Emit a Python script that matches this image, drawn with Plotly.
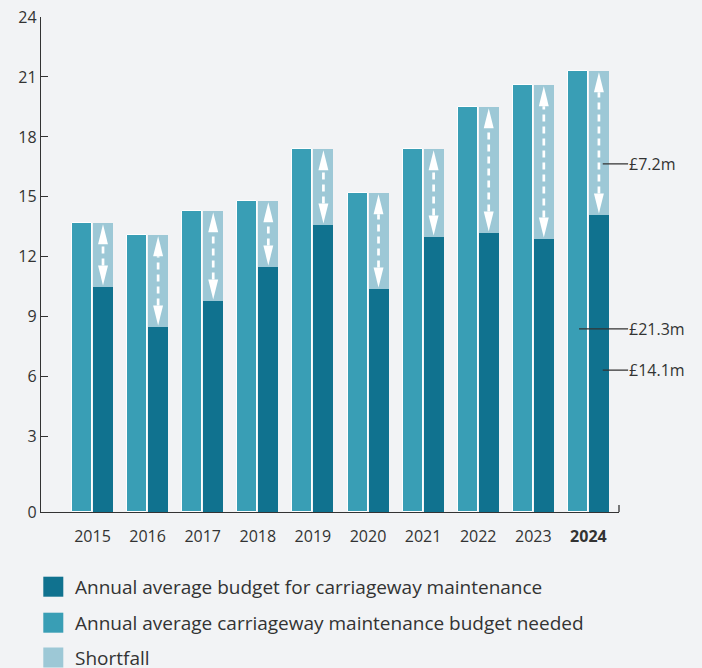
import plotly.graph_objects as go

# ---------------- data ----------------
years = ["2015", "2016", "2017", "2018", "2019", "2020", "2021", "2022", "2023", "2024"]
needed = [13.7, 13.1, 14.3, 14.8, 17.4, 15.2, 17.4, 19.5, 20.6, 21.3]   # budget needed (£m)
budget = [10.5, 8.5, 9.8, 11.5, 13.6, 10.4, 13.0, 13.2, 12.9, 14.1]     # actual budget (£m)
y_ticks = [3, 6, 9, 12, 15, 18, 21, 24]
legend_labels = [
    "Annual average budget for carriageway maintenance",
    "Annual average carriageway maintenance budget needed",
    "Shortfall",
]
callouts = ["£7.2m", "£21.3m", "£14.1m"]

# ---------------- style ----------------
C_BUDGET = "#10728f"
C_NEEDED = "#399eb5"
C_SHORT = "#9dc8d6"
BG = "#f2f3f5"
TXT = "#333333"
FONT = "Open Sans"
AXIS_FLOOR = -0.765          # the chart's baseline sits a little below the 0 gridline
BAR_W = 0.363
OFF_NEED = -0.372
OFF_BUD = 0.009

x = list(range(len(years)))
shortfall = [n - b for n, b in zip(needed, budget)]

fig = go.Figure()
fig.add_trace(go.Bar(
    x=x, y=[v - AXIS_FLOOR for v in needed], base=AXIS_FLOOR,
    width=BAR_W, offset=OFF_NEED, marker=dict(color=C_NEEDED, line=dict(color="white", width=1)),
    customdata=needed, hovertemplate="Needed: £%{customdata}m<extra></extra>", name=legend_labels[1],
))
fig.add_trace(go.Bar(
    x=x, y=[v - AXIS_FLOOR for v in budget], base=AXIS_FLOOR,
    width=BAR_W, offset=OFF_BUD, marker=dict(color=C_BUDGET, line=dict(width=0)),
    customdata=budget, hovertemplate="Budget: £%{customdata}m<extra></extra>", name=legend_labels[0],
))
fig.add_trace(go.Bar(
    x=x, y=shortfall, base=budget,
    width=BAR_W, offset=OFF_BUD, marker=dict(color=C_SHORT, line=dict(width=0)),
    hovertemplate="Shortfall: £%{y:.1f}m<extra></extra>", name=legend_labels[2],
))

shapes = []
# double-headed dashed arrows inside the shortfall segments
HEAD_H = 1.0
HEAD_HW = 0.09
PAD = 0.07
xc_off = OFF_BUD + BAR_W / 2
for i, (n, b) in enumerate(zip(needed, budget)):
    xc = i + xc_off
    top_tip = n - PAD
    bot_tip = b + PAD
    shapes.append(dict(type="line", xref="x", yref="y", x0=xc, x1=xc,
                       y0=bot_tip + HEAD_H, y1=top_tip - HEAD_H,
                       line=dict(color="white", width=2.7, dash="7px,5px")))
    shapes.append(dict(type="path", xref="x", yref="y", fillcolor="white", line=dict(width=0),
                       path=f"M {xc},{top_tip} L {xc-HEAD_HW},{top_tip-HEAD_H} L {xc+HEAD_HW},{top_tip-HEAD_H} Z"))
    shapes.append(dict(type="path", xref="x", yref="y", fillcolor="white", line=dict(width=0),
                       path=f"M {xc},{bot_tip} L {xc-HEAD_HW},{bot_tip+HEAD_H} L {xc+HEAD_HW},{bot_tip+HEAD_H} Z"))

# small end tick on the right of the x axis
shapes.append(dict(type="line", xref="paper", yref="y", x0=1, x1=1,
                   y0=AXIS_FLOOR, y1=AXIS_FLOOR + 0.35, line=dict(color=TXT, width=1.3)))

# custom legend squares
leg_colors = [C_BUDGET, C_NEEDED, C_SHORT]
leg_rows = [-74.7, -110.7, -145.5]
annotations = []
for col, yc, lab in zip(leg_colors, leg_rows, legend_labels):
    shapes.append(dict(type="rect", xref="paper", yref="paper",
                       xsizemode="pixel", ysizemode="pixel", xanchor=0, yanchor=0,
                       x0=2.3, x1=22.3, y0=yc - 10, y1=yc + 10,
                       fillcolor=col, line=dict(width=0)))
    annotations.append(dict(xref="paper", yref="paper", x=0, y=0, xshift=32, yshift=yc,
                            xanchor="left", yanchor="middle", showarrow=False, text=lab,
                            font=dict(family=FONT, size=19, color=TXT)))

# callouts for 2024
last = len(years) - 1
callout_pos = [(last + 0.26, 16.65), (last - 0.17, 8.4), (last + 0.26, 6.33)]
for (cx, cy), txt in zip(callout_pos, callouts):
    ax = (last + 0.72 - cx) * 55.1
    annotations.append(dict(xref="x", yref="y", x=cx, y=cy, ax=ax, ay=0, axref="pixel",
                            showarrow=True, arrowhead=0, arrowwidth=1.2, arrowcolor=TXT,
                            xanchor="left", yanchor="middle", borderpad=0, text=txt,
                            font=dict(family=FONT, size=16, color=TXT)))

ticktext = [y if y != years[-1] else f"<b>{y}</b>" for y in years]

fig.update_layout(
    width=702, height=668,
    margin=dict(l=41, r=83, t=17, b=156, autoexpand=False),
    paper_bgcolor=BG, plot_bgcolor=BG,
    barmode="overlay", bargap=0, showlegend=False,
    font=dict(family=FONT, color=TXT),
    shapes=shapes, annotations=annotations,
    xaxis=dict(range=[-0.935, 9.555], tickvals=x, ticktext=ticktext, showgrid=False, zeroline=False,
               showline=True, linecolor=TXT, linewidth=1.3, ticks="", automargin=False,
               tickfont=dict(family=FONT, size=16, color=TXT), ticklabelstandoff=10),
    yaxis=dict(range=[AXIS_FLOOR, 24], tickvals=[AXIS_FLOOR] + y_ticks, automargin=False,
               ticktext=["0"] + [str(t) for t in y_ticks], showgrid=False, zeroline=False,
               showline=True, linecolor=TXT, linewidth=1.3, ticks="inside", ticklen=7,
               tickcolor=TXT, tickwidth=1.3, tickfont=dict(family=FONT, size=16, color=TXT)),
)

fig.write_html("out.html", config={"displayModeBar": False},
               post_script="document.body.style.margin='0';document.body.style.overflow='hidden';")
